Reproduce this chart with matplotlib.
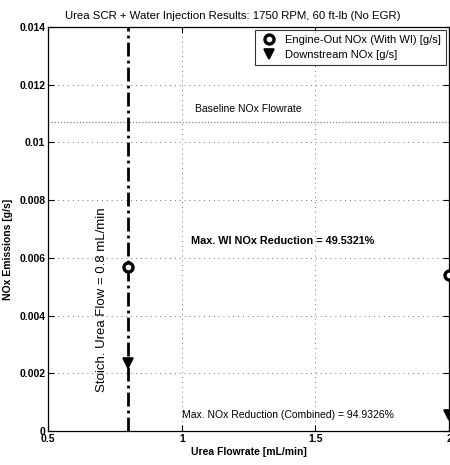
import matplotlib
matplotlib.use("Agg")
import matplotlib.pyplot as plt
import numpy as np

plt.rcParams["font.family"] = ["Liberation Sans", "DejaVu Sans"]

# data
urea_flow = [0.8, 2.0]
engine_out_nox = [0.0057, 0.0054]
downstream_nox = [0.00235, 0.00054]
baseline_nox = 0.0107
stoich_flow = 0.8

x_ticks = [0.5, 1, 1.5, 2]
x_tick_labels = ["0.5", "1", "1.5", "2"]
y_ticks = [0, 0.002, 0.004, 0.006, 0.008, 0.01, 0.012, 0.014]
y_tick_labels = ["0", "0.002", "0.004", "0.006", "0.008", "0.01", "0.012", "0.014"]

fig = plt.figure(figsize=(4.5, 4.65), dpi=100)
ax = fig.add_axes([0.107, 0.073, 0.891, 0.869])

ax.set_xlim(0.5, 2)
ax.set_ylim(0, 0.014)
ax.set_xticks(x_ticks)
ax.set_xticklabels(x_tick_labels)
ax.set_yticks(y_ticks)
ax.set_yticklabels(y_tick_labels)
ax.tick_params(direction="in", top=True, right=True, length=4, labelsize=7.5, pad=2)
for label in ax.get_xticklabels() + ax.get_yticklabels():
    label.set_fontweight("bold")

ax.grid(True, linestyle=(0, (1, 4)), color="0.45", linewidth=0.7)

ax.axhline(baseline_nox, color="0.5", linestyle=(0, (1, 1.5)), linewidth=0.9)
ax.axvline(stoich_flow, color="black", linestyle=(0, (5, 1.5, 1, 1.5)), linewidth=2.0)

ax.plot(urea_flow, engine_out_nox, linestyle="none", marker="o", markersize=6.5,
        markerfacecolor="white", markeredgecolor="black", markeredgewidth=2.4,
        label="Engine-Out NOx (With WI) [g/s]", zorder=5)
ax.plot(urea_flow, downstream_nox, linestyle="none", marker="v", markersize=6.5,
        markerfacecolor="black", markeredgecolor="black", markeredgewidth=1.2,
        label="Downstream NOx [g/s]", zorder=5)

ax.text(1.25, 0.0110, "Baseline NOx Flowrate", ha="center", va="bottom", fontsize=7.5)
ax.text(1.035, 0.0066, "Max. WI NOx Reduction = 49.5321%", ha="left", va="center",
        fontsize=7.8, fontweight="bold")
ax.text(1.0, 0.00055, "Max. NOx Reduction (Combined) = 94.9326%", ha="left", va="center",
        fontsize=7.5)
ax.text(0.7, 0.00455, "Stoich. Urea Flow = 0.8 mL/min", rotation=90, ha="center",
        va="center", fontsize=9.5)

ax.set_xlabel("Urea Flowrate [mL/min]", fontsize=7.5, fontweight="bold", labelpad=2)
ax.set_ylabel("NOx Emissions [g/s]", fontsize=7.5, fontweight="bold")
ax.yaxis.set_label_coords(-0.088, 0.45)
ax.set_title("Urea SCR + Water Injection Results: 1750 RPM, 60 ft-lb (No EGR)",
             fontsize=8.2, pad=6, x=0.46)

legend = ax.legend(loc="upper right", fontsize=8, frameon=True, fancybox=False,
                   edgecolor="black", borderaxespad=0.3, handletextpad=0.6,
                   labelspacing=0.45, borderpad=0.45, handlelength=1.6)
legend.get_frame().set_linewidth(0.8)

for spine in ax.spines.values():
    spine.set_linewidth(0.9)

fig.savefig("out.png", dpi=100)
